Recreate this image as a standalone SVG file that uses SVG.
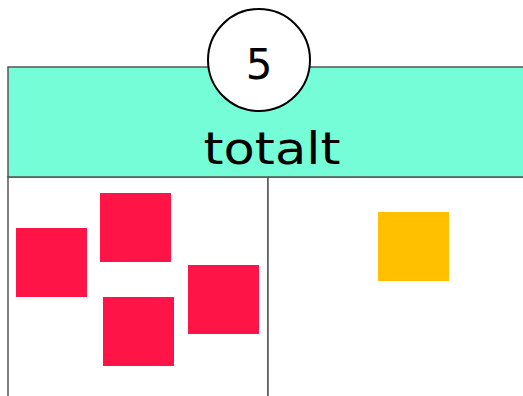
<svg xmlns="http://www.w3.org/2000/svg" width="523" height="396" viewBox="0 0 523 396">
<style>
.lane{fill:#ffffff;stroke:#555555;stroke-width:1.5}
.hdr{fill:#75fdd7;stroke:#555555;stroke-width:1.5}
.red{fill:#ff1447}
.yel{fill:#ffc000}
.lbl{font-family:"DejaVu Sans","Liberation Sans",sans-serif;fill:#000000}
</style>
<rect width="523" height="396" fill="#ffffff"/>
<g id="lanes">
<rect class="lane" x="8" y="177" width="260" height="230"/>
<rect class="lane" x="268" y="177" width="270" height="230"/>
</g>
<g id="header">
<rect class="hdr" x="8" y="67" width="530" height="110"/>
<text class="lbl" x="272" y="164" font-size="44" text-anchor="middle" textLength="137" lengthAdjust="spacingAndGlyphs">totalt</text>
</g>
<g id="badge">
<circle cx="259" cy="60" r="51" fill="#ffffff" stroke="#000000" stroke-width="2"/>
<text class="lbl" x="259" y="79" font-size="42" text-anchor="middle">5</text>
</g>
<g id="note1"><rect class="red" x="16" y="228" width="71" height="69"/></g>
<g id="note2"><rect class="red" x="100" y="193" width="71" height="69"/></g>
<g id="note3"><rect class="red" x="103" y="297" width="71" height="69"/></g>
<g id="note4"><rect class="red" x="188" y="265" width="71" height="69"/></g>
<g id="note5"><rect class="yel" x="378" y="212" width="71" height="69"/></g>
<g id="connectors"></g>
</svg>
